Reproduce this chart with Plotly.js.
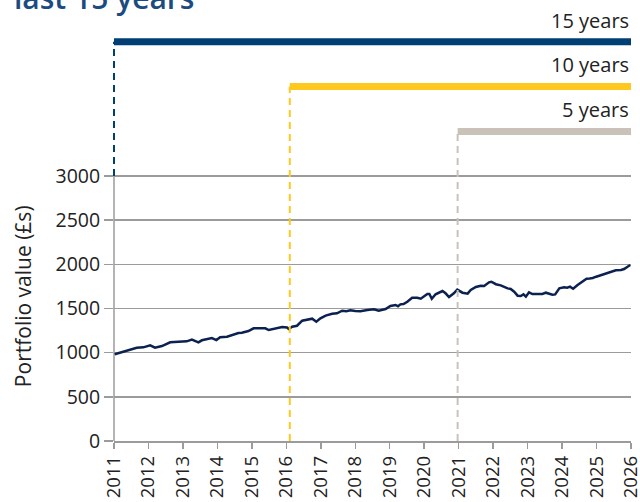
<!DOCTYPE html>
<html>
<head>
<meta charset="utf-8">
<script src="https://cdn.plot.ly/plotly-3.0.1.min.js"></script>
<style>html,body{margin:0;padding:0;background:#fff;}#chart{width:640px;height:502px;}</style>
</head>
<body>
<div id="chart"></div>
<script>
// Portfolio value over time (decimal years)
const years = [2011.02,2011.27,2011.47,2011.66,2011.85,2012.05,2012.19,2012.39,2012.63,2012.92,
  2013.11,2013.26,2013.45,2013.55,2013.74,2013.84,2013.97,2014.08,2014.28,2014.42,2014.61,2014.71,2014.90,
  2015.05,2015.24,2015.39,2015.49,2015.68,2015.88,2016.02,2016.07,2016.17,2016.31,2016.46,2016.60,2016.75,2016.87,2016.99,
  2017.14,2017.33,2017.47,2017.62,2017.74,2017.86,2018.00,2018.15,2018.35,2018.54,2018.68,2018.88,
  2019.02,2019.17,2019.24,2019.31,2019.40,2019.51,2019.65,2019.80,2019.90,2019.99,
  2020.09,2020.15,2020.22,2020.33,2020.53,2020.62,2020.72,2020.86,2020.96,
  2021.11,2021.26,2021.35,2021.50,2021.64,2021.74,2021.88,2021.95,
  2022.08,2022.22,2022.42,2022.51,2022.61,2022.71,2022.80,2022.88,2022.95,
  2023.04,2023.14,2023.29,2023.43,2023.53,2023.62,2023.72,2023.80,2023.92,
  2024.06,2024.15,2024.23,2024.32,2024.45,2024.60,2024.71,2024.80,2024.89,2024.99,
  2025.08,2025.18,2025.32,2025.47,2025.56,2025.71,2025.80,2025.90,2025.98];
const values = [982,1011,1038,1056,1060,1083,1056,1075,1117,1120,
  1128,1147,1117,1140,1155,1166,1143,1174,1181,1200,1222,1226,1245,
  1276,1272,1276,1256,1276,1290,1285,1268,1294,1305,1362,1377,1385,1351,1389,
  1419,1441,1445,1475,1470,1479,1473,1468,1483,1491,1475,1494,
  1528,1540,1525,1547,1550,1577,1622,1622,1611,1634,
  1664,1664,1611,1661,1698,1672,1630,1672,1713,
  1679,1668,1709,1743,1758,1755,1796,1803,
  1775,1762,1728,1721,1690,1645,1642,1660,1634,
  1683,1664,1668,1664,1679,1672,1656,1660,1728,
  1740,1736,1747,1724,1766,1803,1837,1840,1845,1860,
  1871,1879,1898,1917,1932,1936,1947,1973,1992];

// Period bars: label, start year, bar level, label level, colour
const periodLabels = ["15 years", "10 years", "5 years"];
const periodStarts = [2011, 2016.1, 2020.97];
const periodLevels = [4520, 4013, 3504];
const labelLevels = [4590, 4090, 3580];
const periodColors = ["#003e74", "#ffc81e", "#c9c2b8"];

const yTicks = [0, 500, 1000, 1500, 2000, 2500, 3000];
const xTicks = [2011,2012,2013,2014,2015,2016,2017,2018,2019,2020,2021,2022,2023,2024,2025,2026];

const FONT = '"Open Sans", "Noto Sans", sans-serif';
const GRID = '#9b9b9b';

const shapes = [];
const annotations = [];
periodLabels.forEach((lab, i) => {
  shapes.push({type:'line', xref:'x', yref:'y', x0:periodStarts[i], x1:2026, y0:periodLevels[i], y1:periodLevels[i],
    line:{color:periodColors[i], width:7}, layer:'above'});
  if (i === 0) {
    shapes.push({type:'line', xref:'paper', yref:'y', x0:0, x1:0, y0:3000, y1:periodLevels[i],
      line:{color:periodColors[i], width:2, dash:'7px,5px'}, layer:'above'});
  } else {
    shapes.push({type:'line', xref:'x', yref:'y', x0:periodStarts[i], x1:periodStarts[i], y0:0, y1:periodLevels[i],
      line:{color:periodColors[i], width:2, dash:'7px,5px'}, layer:'above'});
  }
  annotations.push({text:lab, xref:'x', yref:'y', x:2026, y:labelLevels[i], xanchor:'right', yanchor:'bottom',
    showarrow:false, font:{family:FONT, size:20, color:'#222'}});
});
shapes.push({type:'line', xref:'paper', yref:'y', x0:0, x1:0, y0:0, y1:3000, line:{color:GRID, width:1.5}, layer:'below'});

annotations.push({text:'Portfolio value (£s)', xref:'paper', yref:'y', x:-0.176, y:1640, textangle:-90,
  xanchor:'center', yanchor:'middle', showarrow:false, font:{family:FONT, size:21, color:'#222'}});
annotations.push({text:'last 15 years', xref:'paper', yref:'paper', x:-0.197, y:0.993, xanchor:'left', yanchor:'bottom',
  showarrow:false, font:{family:FONT, size:30, color:'#1c4c7f', weight:600}});

const trace = {x: years, y: values, type:'scatter', mode:'lines', line:{color:'#0b2150', width:2.5}, hoverinfo:'skip'};

const layout = {
  width:640, height:502,
  margin:{l:114, r:9, t:17, b:61},
  paper_bgcolor:'#fff', plot_bgcolor:'#fff',
  showlegend:false,
  font:{family:FONT, size:18, color:'#222'},
  xaxis:{range:[2011, 2026], tickvals:xTicks, ticktext:xTicks.map(String), tickangle:-90, ticklabeloverflow:'allow',
    showgrid:false, zeroline:false, showline:true, linecolor:GRID, linewidth:1.5,
    ticks:'outside', ticklen:6, tickwidth:1.5, tickcolor:GRID, tickfont:{family:FONT, size:18.5, color:'#222'}},
  yaxis:{range:[0, 4800], tickvals:yTicks, ticktext:yTicks.map(String),
    showgrid:true, gridcolor:GRID, gridwidth:1.5, zeroline:false, showline:false,
    ticks:'outside', ticklen:9, tickwidth:1.5, tickcolor:GRID, tickfont:{family:FONT, size:19.5, color:'#222'}},
  shapes: shapes,
  annotations: annotations
};

Plotly.newPlot('chart', [trace], layout, {displayModeBar:false, staticPlot:true});
</script>
</body>
</html>
